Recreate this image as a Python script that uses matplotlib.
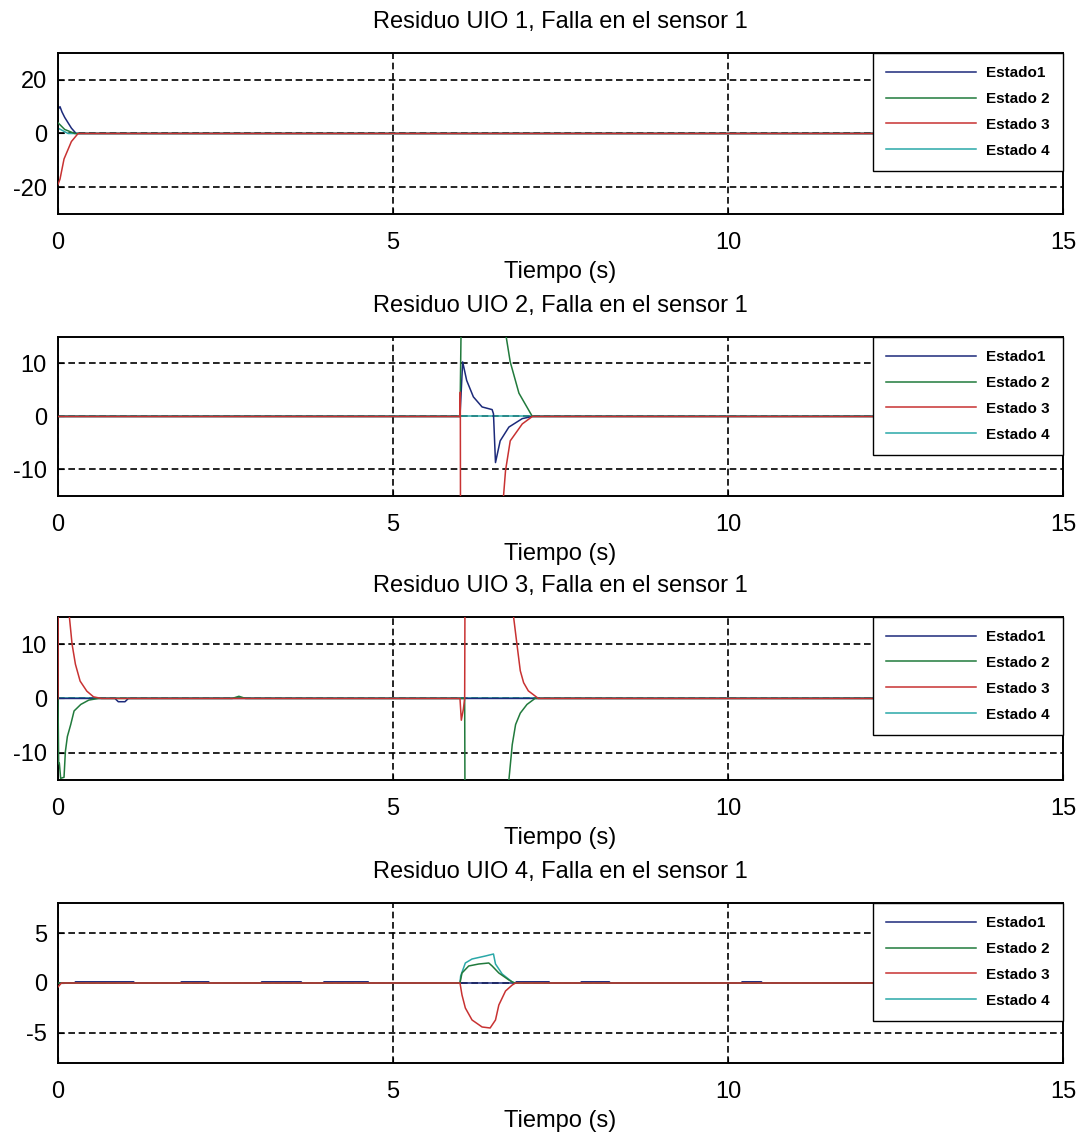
import numpy as np
import matplotlib
matplotlib.use('Agg')
import matplotlib.pyplot as plt

plt.rcParams['font.family'] = ['Liberation Sans', 'DejaVu Sans']
plt.rcParams['axes.unicode_minus'] = False

# colores de los estados (estilo matlab)
colores = ['#1c2a7a', '#217a3c', '#c83232', '#2aa8a8']
nombres = ['Estado1', 'Estado 2', 'Estado 3', 'Estado 4']

# ---- UIO 1 ----
t1_e1 = [0, 0.03, 0.06, 0.1, 0.15, 0.2, 0.27, 15]
v1_e1 = [9, 10, 8, 6, 4, 2, 0, 0]
t1_e2 = [0, 0.1, 0.25, 15]
v1_e2 = [4, 1.5, 0, 0]
t1_e3 = [0, 0.03, 0.09, 0.2, 0.3, 15]
v1_e3 = [-19, -17, -9.5, -3, 0, 0]
t1_e4 = [0, 0.15, 15]
v1_e4 = [2, 0, 0]

# ---- UIO 2 ----
t2_e1 = [0, 6.0, 6.04, 6.1, 6.2, 6.33, 6.48, 6.5, 6.53, 6.6, 6.73, 6.93, 7.08, 15]
v2_e1 = [0, 0, 10.3, 6.8, 3.7, 1.8, 1.3, 0.5, -8.7, -4.6, -2.0, -0.4, 0, 0]
t2_e2 = [0, 6.0, 6.04, 6.68, 6.69, 6.75, 6.88, 6.98, 7.08, 15]
v2_e2 = [0, 0, 40, 40, 15, 10.3, 4.4, 2.2, 0, 0]
t2_e3 = [0, 6.0, 6.005, 6.01, 6.64, 6.65, 6.68, 6.75, 6.93, 7.08, 15]
v2_e3 = [0, 0, 4.6, -40, -40, -15, -10.2, -4.6, -1.4, 0, 0]
t2_e4 = [0, 15]
v2_e4 = [0, 0]

# ---- UIO 3 ----
t3_e1 = [0, 0.85, 0.9, 1.0, 1.05, 15]
v3_e1 = [0, 0, -0.6, -0.6, 0, 0]
t3_e2 = [0, 0.01, 0.02, 0.04, 0.09, 0.11, 0.14, 0.19, 0.24, 0.34, 0.46, 0.6,
         2.6, 2.7, 2.8, 6.0, 6.07, 6.08, 6.7, 6.73, 6.78, 6.83, 6.9, 7.0, 7.12, 15]
v3_e2 = [0, -12, -11.9, -14.7, -14.5, -9.8, -7, -4.8, -2.3, -1.1, -0.3, 0,
         0, 0.4, 0, 0, 0, -40, -40, -15, -8.5, -4.8, -2.7, -1.1, 0, 0]
t3_e3 = [0, 0.005, 0.15, 0.17, 0.21, 0.26, 0.33, 0.43, 0.53, 0.65,
         6.0, 6.02, 6.05, 6.07, 6.08, 6.78, 6.8, 6.85, 6.9, 6.95, 7.02, 7.17, 15]
v3_e3 = [0, 40, 40, 15, 10, 6.3, 3.2, 1.35, 0.3, 0,
         0, -4, -2, 0, 40, 40, 15, 10, 5.1, 2.9, 1.4, 0, 0]
t3_e4 = [0, 15]
v3_e4 = [0, 0]

# ---- UIO 4 ----
t4_e1 = [0, 0.25, 0.26, 1.13, 1.14, 1.83, 1.84, 2.25, 2.26, 3.03, 3.04, 3.63, 3.64,
         3.96, 3.97, 4.63, 4.64, 6.83, 6.84, 7.33, 7.34, 7.8, 7.81, 8.23, 8.24,
         10.2, 10.21, 10.5, 10.51, 15]
v4_e1 = [0, 0, 0.12, 0.12, 0, 0, 0.12, 0.12, 0, 0, 0.12, 0.12, 0,
         0, 0.12, 0.12, 0, 0, 0.12, 0.12, 0, 0, 0.12, 0.12, 0,
         0, 0.12, 0.12, 0, 0]
t4_e2 = [0, 6.0, 6.03, 6.13, 6.28, 6.43, 6.48, 6.58, 6.73, 6.81, 15]
v4_e2 = [0, 0, 1.0, 1.7, 1.9, 2.0, 1.7, 1.0, 0.3, 0, 0]
t4_e3 = [0, 0.05, 6.0, 6.03, 6.08, 6.18, 6.33, 6.45, 6.53, 6.58, 6.68, 6.78, 6.83, 15]
v4_e3 = [-0.4, 0, 0, -1.2, -2.5, -3.7, -4.4, -4.5, -3.7, -2.2, -0.8, -0.2, 0, 0]
t4_e4 = [0, 6.0, 6.01, 6.08, 6.18, 6.38, 6.5, 6.53, 6.63, 6.78, 6.83, 15]
v4_e4 = [0, 0, 0.7, 2.0, 2.4, 2.7, 2.9, 1.9, 0.9, 0.1, 0, 0]

paneles = [
    ('Residuo UIO 1, Falla en el sensor 1', 30, [-20, 0, 20],
     [(t1_e1, v1_e1), (t1_e2, v1_e2), (t1_e3, v1_e3), (t1_e4, v1_e4)]),
    ('Residuo UIO 2, Falla en el sensor 1', 15, [-10, 0, 10],
     [(t2_e1, v2_e1), (t2_e2, v2_e2), (t2_e3, v2_e3), (t2_e4, v2_e4)]),
    ('Residuo UIO 3, Falla en el sensor 1', 15, [-10, 0, 10],
     [(t3_e1, v3_e1), (t3_e2, v3_e2), (t3_e3, v3_e3), (t3_e4, v3_e4)]),
    ('Residuo UIO 4, Falla en el sensor 1', 8, [-5, 0, 5],
     [(t4_e1, v4_e1), (t4_e2, v4_e2), (t4_e3, v4_e3), (t4_e4, v4_e4)]),
]

# posiciones de los ejes [left, bottom, width, height]
rects = [
    [0.0536, 0.8118, 0.9288, 0.1416],
    [0.0536, 0.5638, 0.9288, 0.1398],
    [0.0536, 0.3140, 0.9288, 0.1434],
    [0.0536, 0.0651, 0.9288, 0.1407],
]
orden = [2, 3, 4, 1]  # zorder de cada estado, el rojo queda arriba

fig = plt.figure(figsize=(10.82, 11.37), dpi=100)
for (titulo, lim, yt, series), r in zip(paneles, rects):
    ax = fig.add_axes(r)
    for k, (t, v) in enumerate(series):
        ax.plot(t, v, color=colores[k], lw=1.1, label=nombres[k], zorder=orden[k])
    ax.set_xlim(0, 15)
    ax.set_ylim(-lim, lim)
    ax.set_xticks([0, 5, 10, 15])
    ax.set_yticks(yt)
    ax.grid(True, color='black', linestyle=(0, (4, 2.2)), lw=1.2)
    ax.set_axisbelow(True)
    ax.tick_params(direction='in', length=4, labelsize=17)
    ax.tick_params(axis='x', pad=13)
    ax.tick_params(axis='y', pad=8)
    for s in ax.spines.values():
        s.set_linewidth(1.4)
    ax.set_title(titulo, fontsize=17, pad=18)
    ax.set_xlabel('Tiempo (s)', fontsize=17, labelpad=5)
    leg = ax.legend(loc='upper right', borderaxespad=0, fancybox=False,
                    edgecolor='black', framealpha=1, handlelength=5.9,
                    handletextpad=0.7, labelspacing=0.78, borderpad=0.85,
                    prop={'size': 11, 'weight': 'bold'})
    leg.get_frame().set_linewidth(1.0)
    leg.set_zorder(10)

fig.savefig('out.png', dpi=100, facecolor='white')
